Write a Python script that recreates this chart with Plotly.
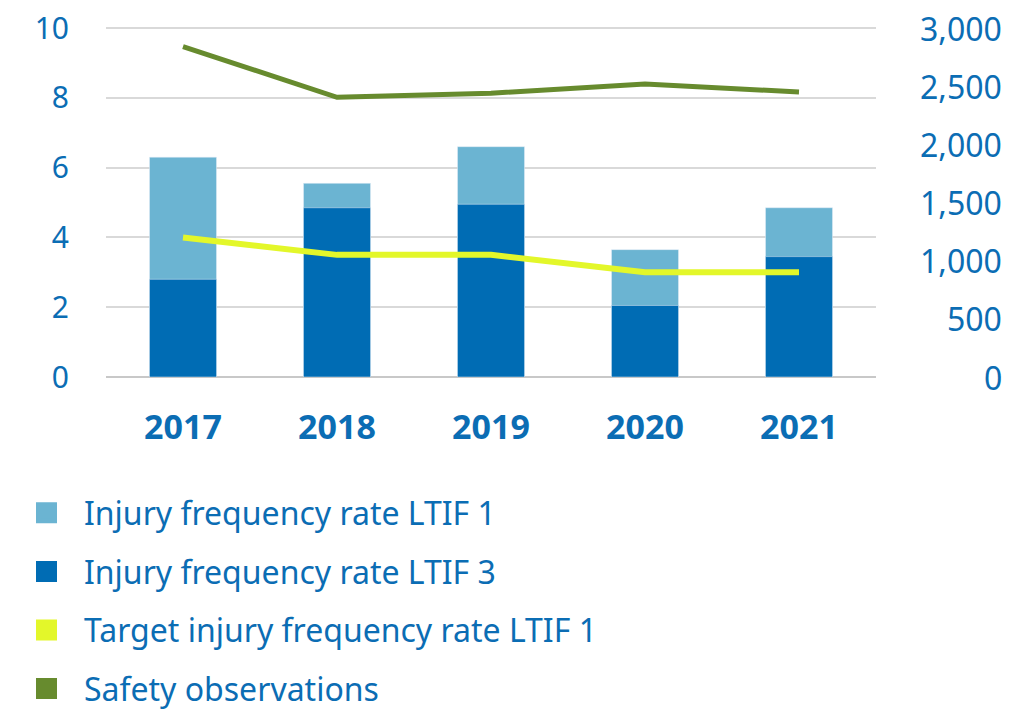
import plotly.graph_objects as go
from plotly.subplots import make_subplots

years = ["2017", "2018", "2019", "2020", "2021"]
ltif1 = [6.3, 5.55, 6.6, 3.65, 4.85]
ltif3 = [2.8, 4.85, 4.95, 2.05, 3.45]
target_ltif1 = [4.0, 3.5, 3.5, 3.0, 3.0]
safety_obs = [2840, 2405, 2440, 2520, 2450]
right_ticks = [0, 500, 1000, 1500, 2000, 2500, 3000]

BLUE_TXT = "#0b6db4"
C_LTIF1 = "#6bb4d2"
C_LTIF3 = "#006cb4"
C_TARGET = "#e3f72a"
C_SAFETY = "#678b2e"
FONT = "Noto Sans"

fig = make_subplots(specs=[[{"secondary_y": True}]])

fig.add_trace(go.Bar(x=years, y=ltif1, marker_color=C_LTIF1, width=0.435,
                     showlegend=False), secondary_y=False)
fig.add_trace(go.Bar(x=years, y=ltif3, marker_color=C_LTIF3, width=0.435,
                     showlegend=False), secondary_y=False)
fig.add_trace(go.Scatter(x=years, y=target_ltif1, mode="lines",
                         line=dict(color=C_TARGET, width=6), showlegend=False),
              secondary_y=False)
fig.add_trace(go.Scatter(x=years, y=safety_obs, mode="lines",
                         line=dict(color=C_SAFETY, width=5), showlegend=False),
              secondary_y=True)

# legend entries with square swatches
legend_items = [
    ("Injury frequency rate LTIF 1", C_LTIF1),
    ("Injury frequency rate LTIF 3", C_LTIF3),
    ("Target injury frequency rate LTIF 1", C_TARGET),
    ("Safety observations", C_SAFETY),
]
for i, (name, col) in enumerate(legend_items):
    fig.add_trace(go.Scatter(x=[None], y=[None], mode="markers", name=name,
                             legendgroup=f"g{i}",
                             marker=dict(symbol="square", size=16, color=col,
                                         line=dict(color=col, width=5))))

fig.update_layout(
    width=1015, height=714,
    margin=dict(l=98, r=147, t=19, b=345, autoexpand=False),
    paper_bgcolor="white", plot_bgcolor="white",
    barmode="overlay",
    font=dict(family=FONT, color=BLUE_TXT),
    xaxis=dict(domain=[0, 1]),
    legend=dict(orientation="v", x=-0.126, xanchor="left", y=-0.31, yanchor="top",
                font=dict(size=32, color=BLUE_TXT), tracegroupgap=14,
                itemwidth=65),
)
fig.update_xaxes(showgrid=False, showline=False, ticks="",
                 tickfont=dict(size=34, color=BLUE_TXT, family=FONT, weight="bold"),
                 ticklabelstandoff=27)
fig.update_yaxes(range=[0, 10.03], tickvals=[0, 2, 4, 6, 8, 10], showgrid=True,
                 gridcolor="#d9d9d9", gridwidth=1.5, zeroline=True,
                 zerolinecolor="#c8c8c8", zerolinewidth=2, showline=False,
                 ticks="", tickfont=dict(size=30, color=BLUE_TXT),
                 ticklabeloverflow="allow", ticklabelstandoff=36,
                 secondary_y=False)
fig.update_yaxes(range=[0, 3009], tickvals=right_ticks, showgrid=False,
                 zeroline=False, showline=False, ticks="",
                 showticklabels=False, secondary_y=True)

for v in right_ticks:
    fig.add_annotation(x=1.166, xref="paper", y=v, yref="y2", text=f"{v:,}",
                       showarrow=False, xanchor="right", yanchor="middle",
                       font=dict(size=32, color=BLUE_TXT, family=FONT))

fig.write_html("out.html")
